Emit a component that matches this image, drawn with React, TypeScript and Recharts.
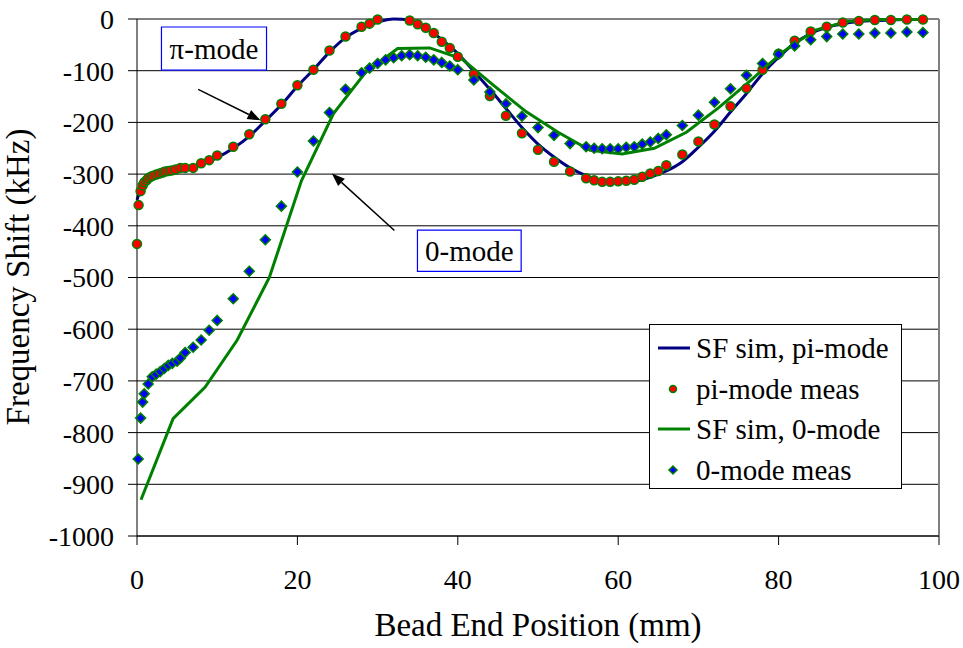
import React from 'react'
import {
  CartesianGrid,
  ComposedChart,
  Legend,
  Line,
  ReferenceArea,
  ReferenceLine,
  Scatter,
  XAxis,
  YAxis,
} from 'recharts'

// bead-pull frequency shift (mm, kHz)
const piSim: [number, number][] = [
  [0, -350], [0.5, -328], [1, -317], [2, -306], [3, -300], [4, -296], [6, -289],
  [8, -281], [10, -268], [12, -250], [14, -227], [16, -197], [18, -166], [20, -130],
  [22, -98], [24, -64], [26, -36], [28, -18], [30, -6], [32, 0], [34, -2], [36, -16],
  [38, -40], [40, -67], [42, -101], [44, -136], [46, -173], [48, -210], [50, -242],
  [52, -267], [54, -288], [56, -303], [58, -313], [60, -316], [62, -314], [64, -306],
  [66, -294], [68, -276], [70, -248], [72, -217], [74, -180], [76, -144], [78, -106],
  [80, -74], [82, -47], [84, -28], [86, -16], [88, -9], [90, -5], [92, -3], [94, -2],
  [96, -1], [98, -1],
]

const piMeas: [number, number][] = [
  [0, -435], [0.2, -360], [0.45, -333], [0.7, -322], [0.9, -316], [1.2, -312],
  [1.4, -308], [1.7, -305], [2, -303], [2.4, -301], [2.8, -299], [3.2, -297],
  [3.5, -295], [3.9, -294], [4.3, -293], [4.8, -291], [5.4, -288], [6, -288],
  [7, -288], [8, -279], [9, -273], [10, -264], [12, -247], [14, -223], [16, -194],
  [18, -164], [20, -128], [22, -98], [24, -61], [26, -34], [28, -15], [29, -9],
  [30, -1], [34, -3], [35, -10], [36, -17], [37, -27], [38, -44], [39, -56],
  [40, -73], [42, -107], [44, -149], [46, -187], [48, -221], [50, -253], [52, -276],
  [54, -295], [56, -308], [57, -312], [58, -315], [59, -315], [60, -314], [61, -313],
  [62, -311], [63, -305], [64, -299], [65, -294], [66, -283], [68, -262], [70, -237],
  [72, -204], [74, -169], [76, -134], [78, -98], [80, -67], [82, -42], [84, -24],
  [86, -15], [88, -7], [90, -4], [92, -2], [94, -2], [96, -1], [98, -1],
]

const zeroSim: [number, number][] = [
  [0.5, -930], [4.5, -773], [8.5, -712], [12.5, -621], [16.5, -500], [20.5, -313],
  [24.5, -183], [28.5, -103], [32.5, -57], [36.5, -56], [40.5, -77], [44.5, -129],
  [48.5, -179], [52.5, -219], [56.5, -254], [60.5, -261], [64.5, -250], [68.5, -219],
  [72.5, -172], [76.5, -119], [80.5, -64], [84.5, -22], [88.5, -5], [92.5, -1],
  [96.5, -1], [98.5, -1],
]

const zeroMeas: [number, number][] = [
  [0.15, -851], [0.45, -772], [0.7, -741], [0.9, -725], [1.4, -706], [1.9, -692],
  [2.4, -687], [2.9, -682], [3.4, -676], [3.9, -670], [4.4, -666], [5, -662],
  [5.4, -656], [6, -645], [7, -635], [8, -621], [9, -602], [10, -583], [12, -541],
  [14, -488], [16, -427], [18, -362], [20, -296], [22, -236], [24, -181], [26, -136],
  [28, -104], [29, -95], [30, -86], [31, -79], [32, -75], [33, -71], [34, -69],
  [35, -71], [36, -74], [37, -79], [38, -84], [39, -91], [40, -98], [42, -118],
  [44, -141], [46, -164], [48, -188], [50, -210], [52, -225], [54, -241], [56, -247],
  [57, -250], [58, -251], [59, -251], [60, -251], [61, -248], [62, -247], [63, -242],
  [64, -238], [65, -231], [66, -224], [68, -206], [70, -186], [72, -161], [74, -135],
  [76, -109], [78, -86], [80, -68], [82, -52], [84, -40], [86, -34], [88, -29],
  [90, -29], [92, -27], [94, -27], [96, -25], [98, -26],
]

const xTicks = [0, 20, 40, 60, 80, 100]
const yTicks = [0, -100, -200, -300, -400, -500, -600, -700, -800, -900, -1000]

const legendItems = ['SF sim, pi-mode', 'pi-mode meas', 'SF sim, 0-mode', '0-mode meas']

const toPoints = (rows: [number, number][]) => rows.map(([x, y]) => ({ x, y }))

const NAVY = '#000080'
const GREEN = '#008000'
const RED = '#FF0000'
const BLUE = '#0000FF'
const FONT = '"Liberation Serif", "Times New Roman", serif'

function RedDot(props: any) {
  const { cx, cy } = props
  if (cx == null || cy == null) return null
  return <circle cx={cx} cy={cy} r={4.5} fill={RED} stroke={GREEN} strokeWidth={1.5} />
}

function BlueDiamond(props: any) {
  const { cx, cy } = props
  if (cx == null || cy == null) return null
  const s = 5
  return (
    <polygon
      points={`${cx},${cy - s} ${cx + s},${cy} ${cx},${cy + s} ${cx - s},${cy}`}
      fill={BLUE}
      stroke={GREEN}
      strokeWidth={1.5}
    />
  )
}

function Arrow(props: any) {
  const { x1, y1, x2, y2 } = props
  if ([x1, y1, x2, y2].some((v) => v == null)) return null
  const a = Math.atan2(y2 - y1, x2 - x1)
  const len = 13
  const half = 5
  const bx = x2 - len * Math.cos(a)
  const by = y2 - len * Math.sin(a)
  const px = -Math.sin(a) * half
  const py = Math.cos(a) * half
  return (
    <g>
      <line x1={x1} y1={y1} x2={bx} y2={by} stroke="#000" strokeWidth={1.5} />
      <polygon points={`${x2},${y2} ${bx + px},${by + py} ${bx - px},${by - py}`} fill="#000" />
    </g>
  )
}

function LegendBox() {
  const icon = (i: number) => {
    if (i === 0 || i === 2) {
      return <line x1={8} y1={20} x2={40} y2={20} stroke={i === 0 ? NAVY : GREEN} strokeWidth={3} />
    }
    if (i === 1) return <circle cx={23} cy={20} r={3.5} fill={RED} stroke={GREEN} strokeWidth={1.5} />
    return <polygon points="23,16 27,20 23,24 19,20" fill={BLUE} stroke={GREEN} strokeWidth={1.5} />
  }
  return (
    <div
      style={{
        width: 253,
        height: 165,
        boxSizing: 'border-box',
        border: '1px solid #000',
        background: '#fff',
        paddingTop: 3,
        fontFamily: FONT,
      }}
    >
      {legendItems.map((label, i) => (
        <div key={label} style={{ display: 'flex', alignItems: 'center', height: 40.5 }}>
          <svg width={46} height={40} style={{ flex: 'none' }}>
            {icon(i)}
          </svg>
          <span style={{ fontSize: 29, lineHeight: '40px', color: '#000', whiteSpace: 'nowrap' }}>{label}</span>
        </div>
      ))}
    </div>
  )
}

export default function App() {
  return (
    <div
      style={{
        position: 'absolute',
        left: 0,
        top: 0,
        width: 963,
        height: 648,
        background: '#fff',
        fontFamily: FONT,
      }}
    >
      <ComposedChart width={963} height={648} margin={{ top: 19, right: 24, bottom: 52, left: 0 }}>
        <CartesianGrid vertical={false} stroke="#000" strokeWidth={1} />
        <XAxis
          dataKey="x"
          type="number"
          domain={[0, 100]}
          ticks={xTicks}
          interval={0}
          height={60}
          tickSize={9}
          tickMargin={24}
          axisLine={{ stroke: '#000', strokeWidth: 1 }}
          tickLine={{ stroke: '#000' }}
          tick={{ fill: '#000', fontSize: 28 }}
          label={{
            content: () => (
              <text x={538} y={636} textAnchor="middle" fontSize={33} fill="#000">
                Bead End Position (mm)
              </text>
            ),
          }}
        />
        <YAxis
          dataKey="y"
          type="number"
          domain={[-1000, 0]}
          ticks={yTicks}
          interval={0}
          width={137}
          tickSize={9}
          tickMargin={14}
          axisLine={{ stroke: '#000', strokeWidth: 1 }}
          tickLine={{ stroke: '#000' }}
          tick={{ fill: '#000', fontSize: 28 }}
          label={{
            content: () => (
              <text x={29} y={277} transform="rotate(-90 29 277)" textAnchor="middle" fontSize={33} fill="#000">
                Frequency Shift (kHz)
              </text>
            ),
          }}
        />
        <ReferenceLine y={0} stroke="#808080" strokeWidth={2} />
        <ReferenceLine x={100} stroke="#808080" strokeWidth={2} />

        <ReferenceArea
          x1={3.05}
          x2={16.15}
          y1={-99}
          y2={-15.5}
          fill="#fff"
          fillOpacity={1}
          stroke={BLUE}
          strokeWidth={1.2}
          label={{ value: 'π-mode', position: 'center', fontSize: 29, fill: '#000' }}
        />
        <ReferenceArea
          x1={34.97}
          x2={47.9}
          y1={-488}
          y2={-408.5}
          fill="#fff"
          fillOpacity={1}
          stroke={BLUE}
          strokeWidth={1.2}
          label={{ value: '0-mode', position: 'center', fontSize: 29, fill: '#000' }}
        />
        <ReferenceLine
          segment={[
            { x: 7.63, y: -136 },
            { x: 15.4, y: -196 },
          ]}
          shape={Arrow}
        />
        <ReferenceLine
          segment={[
            { x: 32.1, y: -409 },
            { x: 24.3, y: -299 },
          ]}
          shape={Arrow}
        />

        <Line
          data={toPoints(piSim)}
          dataKey="y"
          name="SF sim, pi-mode"
          type="monotone"
          stroke={NAVY}
          strokeWidth={3}
          dot={false}
          isAnimationActive={false}
        />
        <Scatter
          data={toPoints(piMeas)}
          dataKey="y"
          name="pi-mode meas"
          shape={<RedDot />}
          isAnimationActive={false}
        />
        <Line
          data={toPoints(zeroSim)}
          dataKey="y"
          name="SF sim, 0-mode"
          type="linear"
          stroke={GREEN}
          strokeWidth={3}
          dot={false}
          isAnimationActive={false}
        />
        <Scatter
          data={toPoints(zeroMeas)}
          dataKey="y"
          name="0-mode meas"
          shape={<BlueDiamond />}
          isAnimationActive={false}
        />
        <Legend
          layout="vertical"
          align="center"
          verticalAlign="middle"
          content={() => <LegendBox />}
          wrapperStyle={{ left: 649, top: 324, width: 253, height: 165 }}
        />
      </ComposedChart>
    </div>
  )
}
